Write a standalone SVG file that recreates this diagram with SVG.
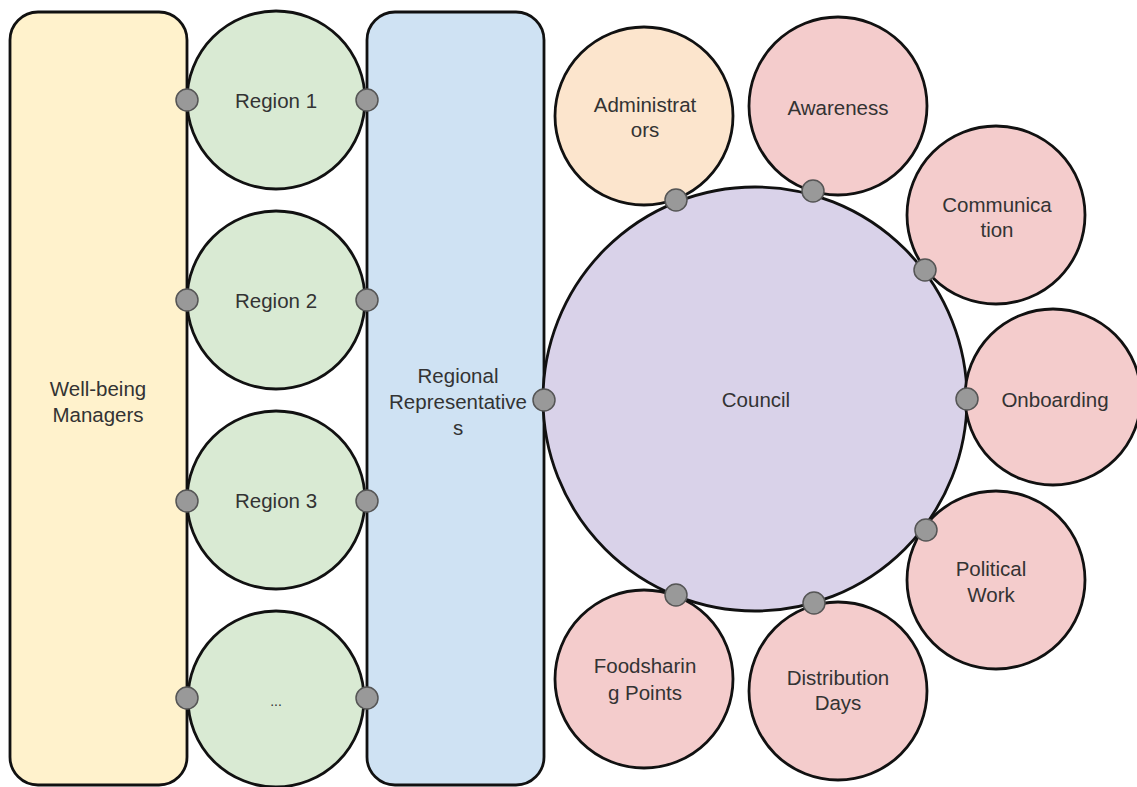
<svg xmlns="http://www.w3.org/2000/svg" width="1137" height="787" viewBox="0 0 1137 787">
<style>
.s{stroke:#111;stroke-width:2.8}
.t{font-family:"Liberation Sans",Arial,sans-serif;font-size:20.5px;fill:#333;text-anchor:middle}
.d{fill:#999;stroke:#555;stroke-width:1.5}
</style>
<rect width="1137" height="787" fill="#fff"/>
<g id="wellbeing">
<rect class="s" x="10" y="12" width="177" height="773" rx="28" fill="#fff2cc"/>
<text class="t" x="98" y="396">Well-being</text>
<text class="t" x="98" y="422">Managers</text>
</g>
<g id="regional">
<rect class="s" x="367" y="12" width="177" height="773" rx="28" fill="#cfe2f3"/>
<text class="t" x="458" y="383">Regional</text>
<text class="t" x="458" y="409">Representative</text>
<text class="t" x="458" y="435">s</text>
</g>
<g id="region1"><circle class="s" cx="276" cy="100" r="89" fill="#d9ead3"/><text class="t" x="276" y="108">Region 1</text></g>
<g id="region2"><circle class="s" cx="276" cy="300" r="89" fill="#d9ead3"/><text class="t" x="276" y="308">Region 2</text></g>
<g id="region3"><circle class="s" cx="276" cy="500" r="89" fill="#d9ead3"/><text class="t" x="276" y="508">Region 3</text></g>
<g id="region4"><circle class="s" cx="276" cy="699" r="88" fill="#d9ead3"/><text class="t" x="276" y="706" style="font-size:14px">...</text></g>
<g id="council"><circle class="s" cx="755" cy="399" r="212" fill="#d9d2e9"/><text class="t" x="756" y="407">Council</text></g>
<g id="administrators"><circle class="s" cx="644" cy="116" r="89" fill="#fce5cd"/><text class="t" x="645" y="112">Administrat</text><text class="t" x="645" y="137">ors</text></g>
<g id="awareness"><circle class="s" cx="838" cy="106" r="89" fill="#f4cccc"/><text class="t" x="838" y="115">Awareness</text></g>
<g id="communication"><circle class="s" cx="996" cy="215" r="89" fill="#f4cccc"/><text class="t" x="997" y="212">Communica</text><text class="t" x="997" y="237">tion</text></g>
<g id="onboarding"><circle class="s" cx="1053" cy="397" r="88" fill="#f4cccc"/><text class="t" x="1055" y="407">Onboarding</text></g>
<g id="political"><circle class="s" cx="996" cy="580" r="89" fill="#f4cccc"/><text class="t" x="991" y="576">Political</text><text class="t" x="991" y="602">Work</text></g>
<g id="distribution"><circle class="s" cx="838" cy="691" r="89" fill="#f4cccc"/><text class="t" x="838" y="685">Distribution</text><text class="t" x="838" y="710">Days</text></g>
<g id="foodsharing"><circle class="s" cx="644" cy="679" r="89" fill="#f4cccc"/><text class="t" x="645" y="673">Foodsharin</text><text class="t" x="645" y="700">g Points</text></g>
<g id="connectors">
<circle class="d" cx="187" cy="100" r="11"/><circle class="d" cx="367" cy="100" r="11"/>
<circle class="d" cx="187" cy="300" r="11"/><circle class="d" cx="367" cy="300" r="11"/>
<circle class="d" cx="187" cy="501" r="11"/><circle class="d" cx="367" cy="501" r="11"/>
<circle class="d" cx="187" cy="698" r="11"/><circle class="d" cx="367" cy="698" r="11"/>
<circle class="d" cx="544" cy="400" r="11"/>
<circle class="d" cx="676" cy="200" r="11"/>
<circle class="d" cx="813" cy="191" r="11"/>
<circle class="d" cx="925" cy="270" r="11"/>
<circle class="d" cx="967" cy="399" r="11"/>
<circle class="d" cx="926" cy="530" r="11"/>
<circle class="d" cx="814" cy="603" r="11"/>
<circle class="d" cx="676" cy="595" r="11"/>
</g>
</svg>
